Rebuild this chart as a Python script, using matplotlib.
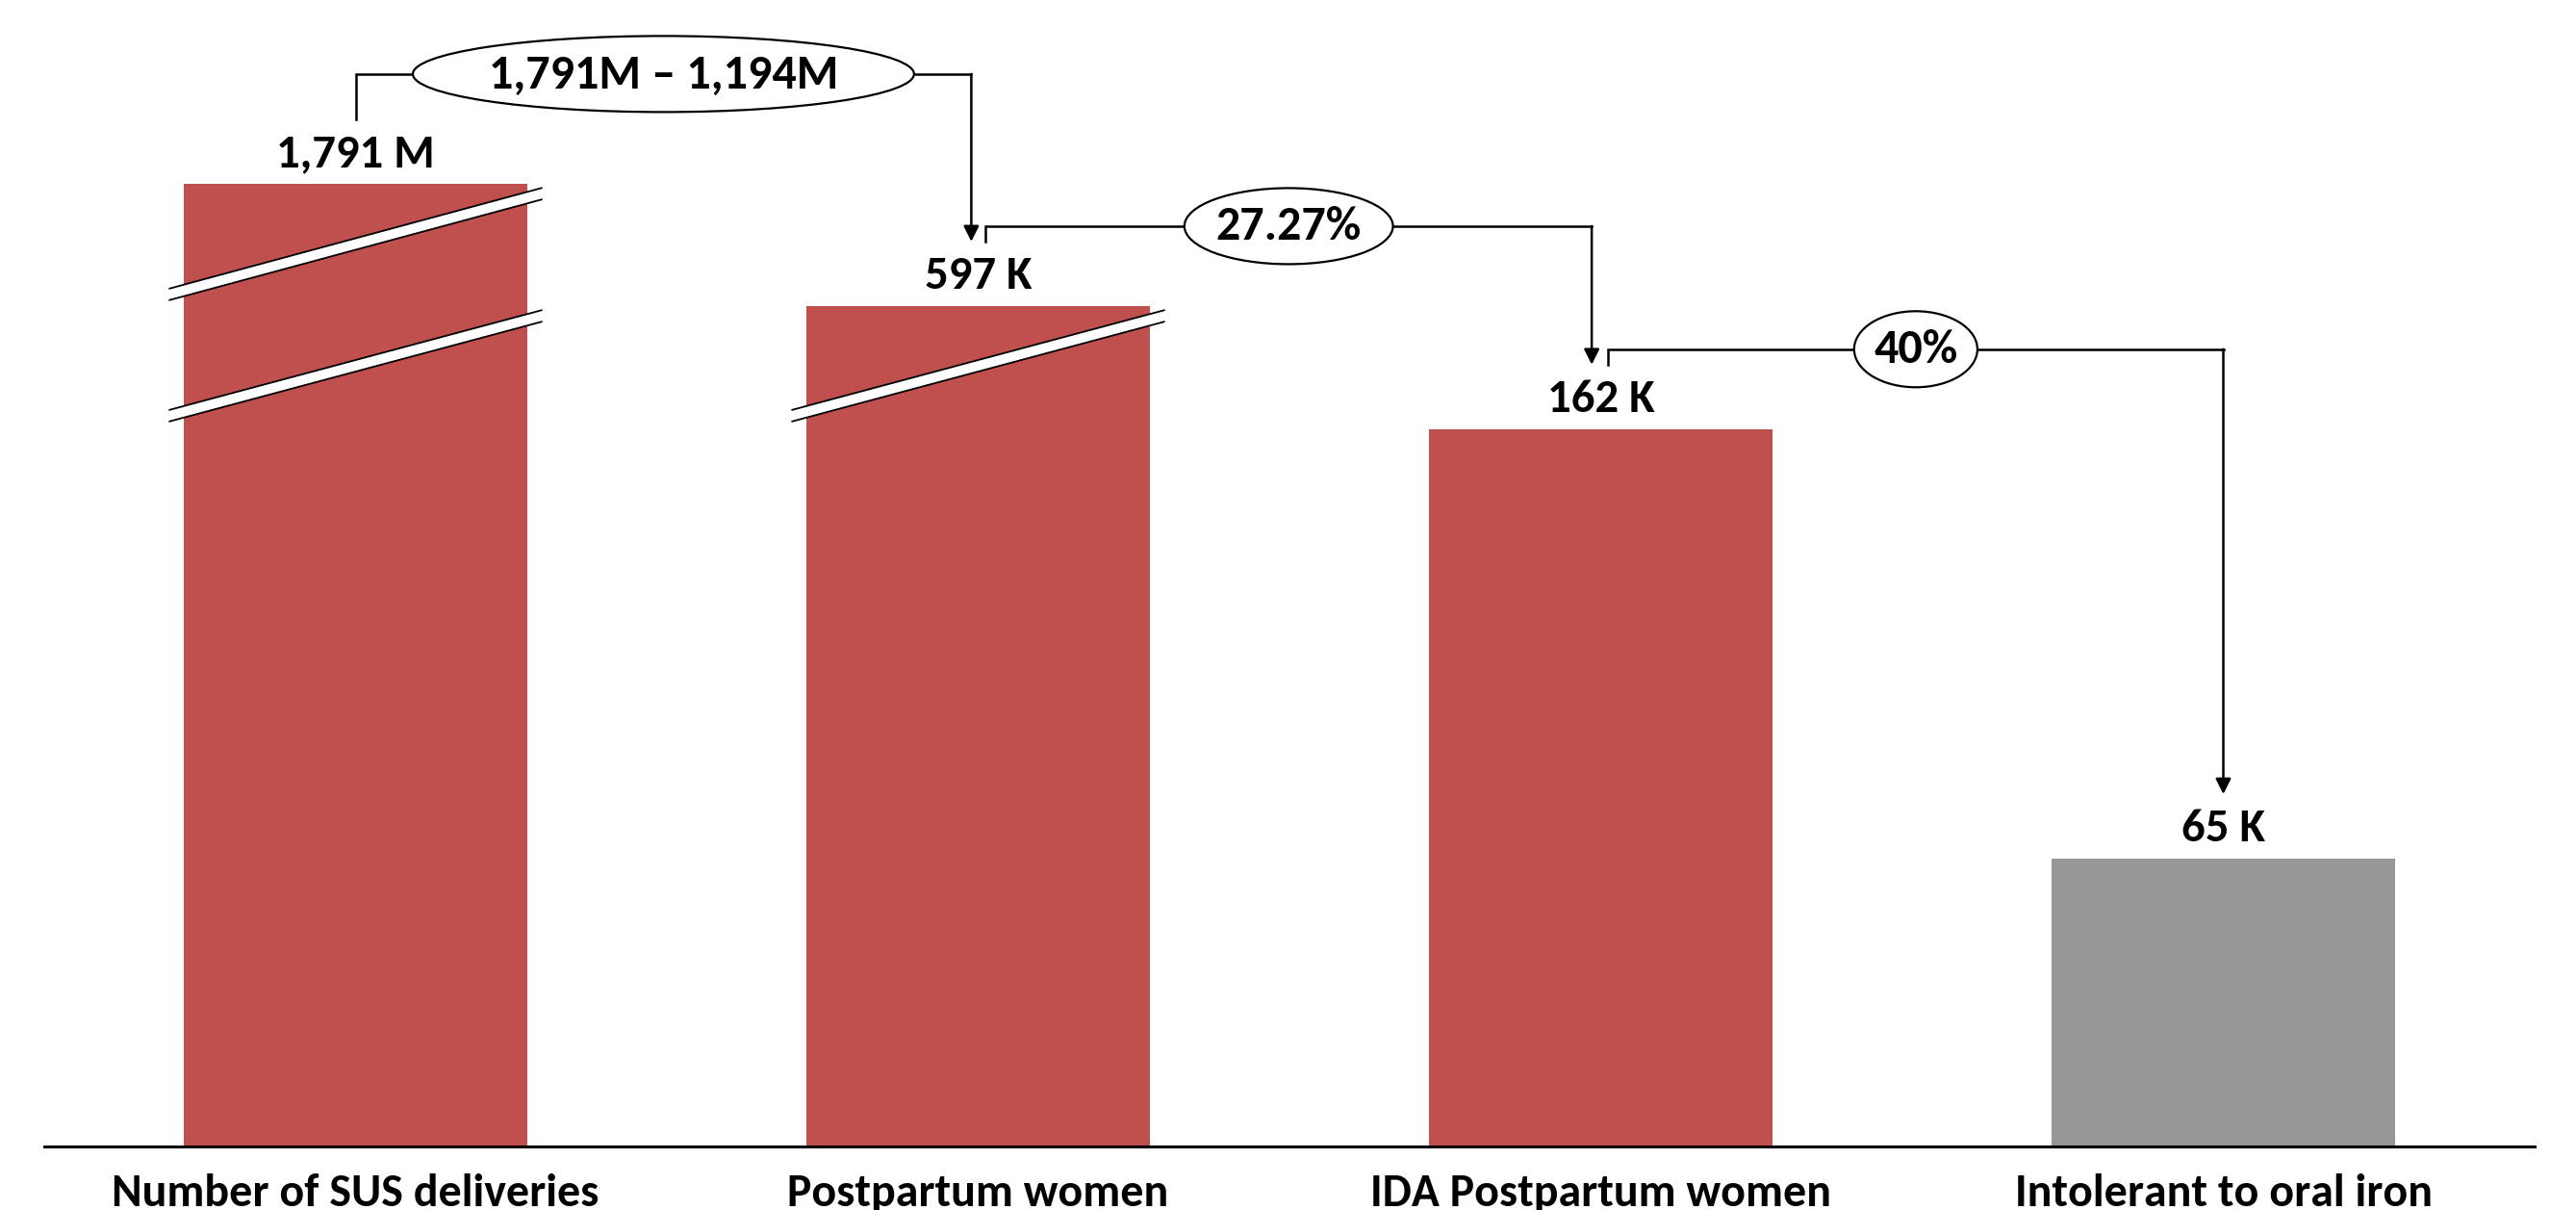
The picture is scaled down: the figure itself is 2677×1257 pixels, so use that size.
import matplotlib
matplotlib.use("Agg")
import matplotlib.pyplot as plt
from matplotlib import font_manager
from matplotlib.patches import Ellipse, Polygon
import numpy as np

# ---------------- data ----------------
categories = ["Number of SUS deliveries", "Postpartum women",
              "IDA Postpartum women", "Intolerant to oral iron"]
values_k = [1791, 597, 162, 65]          # thousands
value_labels = ["1,791 M", "597 K", "162 K", "65 K"]
step_labels = ["1,791M – 1,194M", "27.27%", "40%"]

# ---------------- style ----------------
RED = "#C0504D"
GREY = "#979797"
bar_colors = [RED, RED, RED, GREY]

available = {f.name for f in font_manager.fontManager.ttflist}
FONT = "DejaVu Sans"
STRETCH = "normal"
for fam in ["Carlito", "Liberation Sans Narrow", "Roboto Condensed"]:
    if fam in available:
        FONT = fam
        break
else:
    STRETCH = "condensed"
plt.rcParams["font.family"] = [FONT, "DejaVu Sans"]

W, H = 2677, 1257
PXK = 4.6                       # pixels per thousand
fig = plt.figure(figsize=(W / 100, H / 100), dpi=100)
ax = fig.add_axes([46 / W, 66 / H, 2588 / W, 1191 / H])
ax.set_xlim(-0.5, 3.5)
ax.set_ylim(0, 1191 / PXK)

# broken bars are drawn at a truncated height
broken_heights = {0: 217.4, 1: 189.8}
x = np.arange(len(categories))
shown = [broken_heights.get(i, v) for i, v in enumerate(values_k)]
ax.bar(x, shown, width=0.552, color=bar_colors, zorder=2)

for s in ["left", "right", "top"]:
    ax.spines[s].set_visible(False)
ax.spines["bottom"].set_linewidth(2.2)
ax.spines["bottom"].set_color("black")
ax.set_yticks([])
ax.set_xticks(x, categories)
ax.tick_params(axis="x", length=0, pad=20)
for lab in ax.get_xticklabels():
    lab.set_fontsize(34.5)
    lab.set_fontweight("bold")
    lab.set_fontstretch(STRETCH)

TXT = dict(fontsize=35, fontweight="bold", fontstretch=STRETCH, color="black")

# value labels
for i, lab in enumerate(value_labels):
    ax.text(x[i], shown[i] + 18 / PXK, lab, ha="center", va="baseline", zorder=6, **TXT)

# break marks
def draw_break(xc, yl, yr, t=2.6, hw=0.3):
    pts = [(xc - hw, yl - t / 2), (xc + hw, yr - t / 2),
           (xc + hw, yr + t / 2), (xc - hw, yl + t / 2)]
    ax.add_patch(Polygon(pts, closed=True, facecolor="white", edgecolor="none",
                         zorder=3, clip_on=False))
    ax.plot([xc - hw, xc + hw], [yl - t / 2, yr - t / 2], color="black", lw=1.3,
            zorder=4, clip_on=False, solid_capstyle="butt")
    ax.plot([xc - hw, xc + hw], [yl + t / 2, yr + t / 2], color="black", lw=1.3,
            zorder=4, clip_on=False, solid_capstyle="butt")

draw_break(x[0], 192.4, 215.2)
draw_break(x[0], 165.0, 187.6)
draw_break(x[1], 165.0, 187.6)

# connectors
gap = 67 / PXK
conn = [
    # (start x, end x, level, ellipse width)
    (x[0], x[1] - 0.011, 242.2, 0.805),
    (x[1] + 0.012, x[2] - 0.0145, None, 0.335),
    (x[2] + 0.012, x[3], None, 0.198),
]
for k, (xs, xe, level, ew) in enumerate(conn):
    ys = shown[k] + gap
    ye = shown[k + 1] + gap
    if level is None:
        level = ys + 16 / PXK
    ax.plot([xs, xs, xe], [ys, level, level], color="black", lw=1.8, zorder=5,
            solid_joinstyle="miter")
    ax.annotate("", xy=(xe, ye), xytext=(xe, level),
                arrowprops=dict(arrowstyle="-|>", lw=1.8, color="black",
                                mutation_scale=24, shrinkA=0, shrinkB=0),
                zorder=5)
    xm = (xs + xe) / 2
    ax.add_patch(Ellipse((xm, level), ew, 79 / PXK, facecolor="white",
                         edgecolor="black", lw=1.6, zorder=6))
    ax.text(xm, level, step_labels[k], ha="center", va="center", zorder=7,
            fontsize=36, fontweight="bold", fontstretch=STRETCH)

fig.savefig("out.png", dpi=100)
